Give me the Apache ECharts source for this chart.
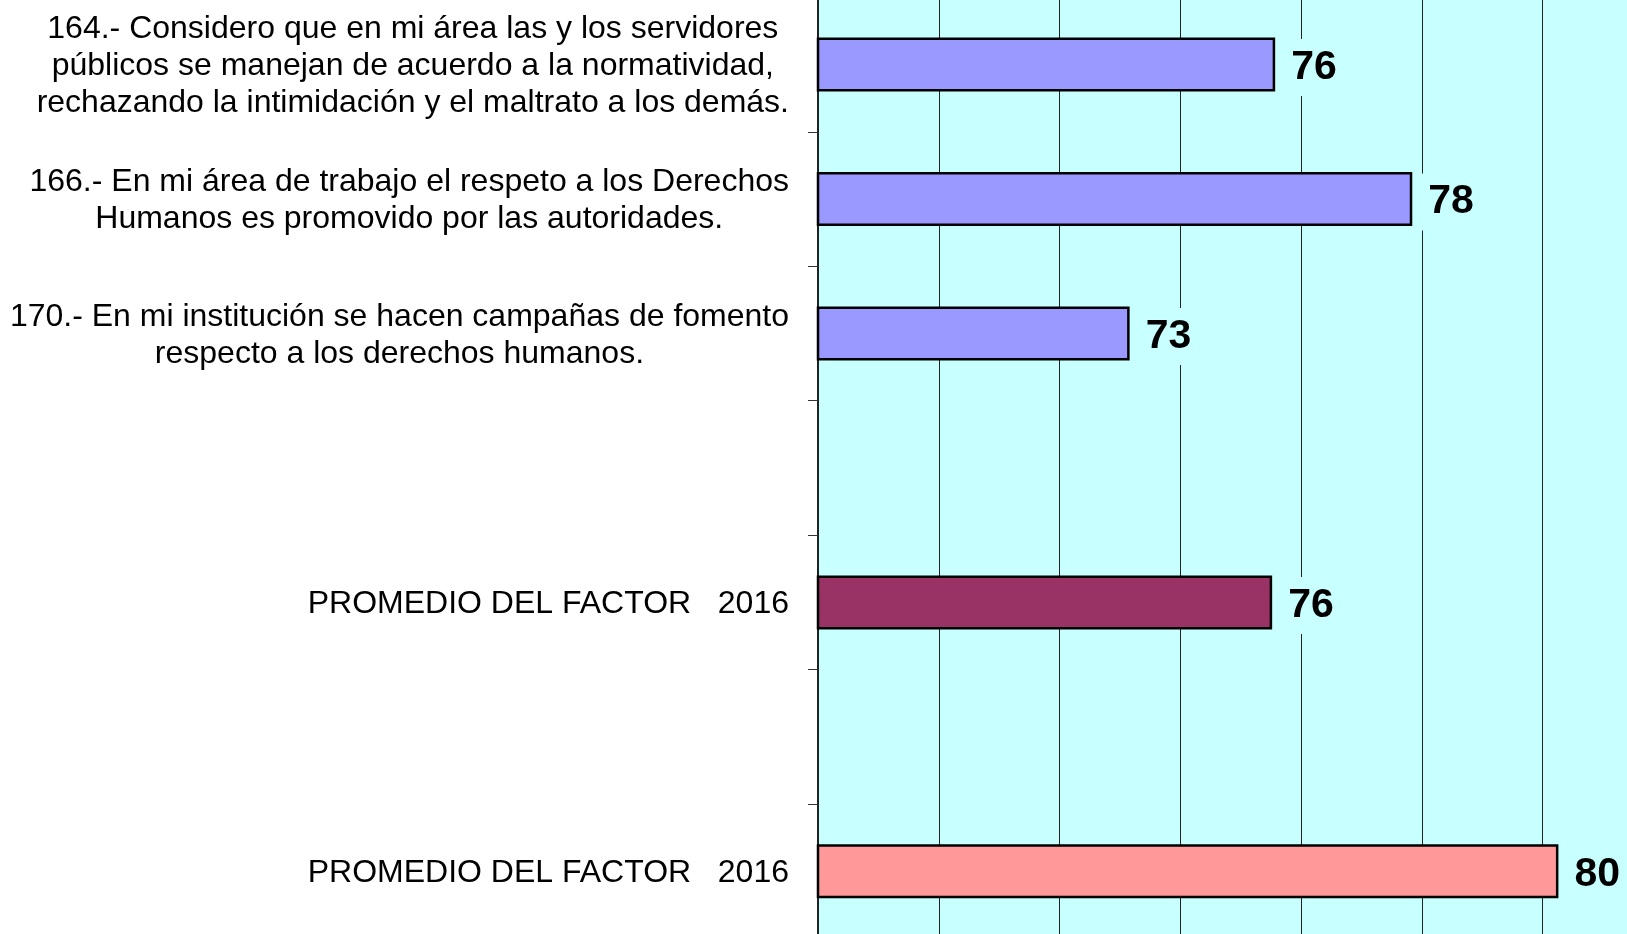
<!DOCTYPE html>
<html>
<head>
<meta charset="utf-8">
<title>Promedio del factor 2016</title>
<script src="https://cdn.jsdelivr.net/npm/echarts@6/dist/echarts.min.js"></script>
<style>
  html, body { margin: 0; padding: 0; background: #ffffff; }
  #chart { width: 1627px; height: 934px; }
</style>
</head>
<body>
<div id="chart"></div>
<script>
// Reactivos del factor (en orden de arriba hacia abajo); las filas vacías son separadores
const categories = [
  '164.- Considero que en mi área las y los servidores\npúblicos se manejan de acuerdo a la normatividad,\nrechazando la intimidación y el maltrato a los demás.',
  '166.- En mi área de trabajo el respeto a los Derechos\nHumanos es promovido por las autoridades.',
  '170.- En mi institución se hacen campañas de fomento\nrespecto a los derechos humanos.',
  '',
  'PROMEDIO DEL FACTOR   2016',
  '',
  'PROMEDIO DEL FACTOR   2016'
];

// Puntaje de cada fila (null = fila sin barra)
const scores = [75.57, 77.84, 73.16, null, 75.52, null, 80.26];

// Tipo de barra de cada fila: reactivo, promedio del factor, promedio global
const rowKinds = ['item', 'item', 'item', null, 'factor', null, 'global'];

// Escala del eje de valores
const axisMin = 68;
const axisMax = 82;
const axisStep = 2;

const kindColors = { item: '#9999FF', factor: '#993366', global: '#FF9999' };
const plotBg = '#C8FFFF';
const font = '"Liberation Sans", Arial, sans-serif';

const chart = echarts.init(document.getElementById('chart'), null, { renderer: 'canvas' });

chart.setOption({
  backgroundColor: '#ffffff',
  animation: false,
  grid: {
    left: 818,
    right: -36.5,
    top: -2.7,
    bottom: -4.6,
    show: true,
    backgroundColor: plotBg,
    borderWidth: 0,
    containLabel: false,
    outerBoundsMode: 'none'
  },
  xAxis: {
    type: 'value',
    min: axisMin,
    max: axisMax,
    interval: axisStep,
    axisLine: { show: false },
    axisTick: { show: false },
    axisLabel: { show: false },
    splitLine: { show: true, lineStyle: { color: '#222222', width: 1 } }
  },
  yAxis: {
    type: 'category',
    inverse: true,
    data: categories,
    axisLine: { show: true, lineStyle: { color: '#222222', width: 2 } },
    axisTick: { show: true, length: 10, inside: false, lineStyle: { color: '#333333', width: 1 } },
    splitLine: { show: false },
    axisLabel: {
      show: true,
      interval: 0,
      margin: 29,
      align: 'right',
      padding: [4, 0, 0, 0],
      formatter: function (value) {
        if (!value) return '';
        return value.split('\n').map(function (line) { return '{c|' + line + '}'; }).join('\n');
      },
      rich: {
        c: {
          align: 'center',
          fontFamily: font,
          fontSize: 32,
          lineHeight: 37,
          color: '#000000'
        }
      }
    }
  },
  series: [{
    type: 'bar',
    barWidth: 54,
    data: scores.map(function (v, i) {
      if (v === null) return '-';
      return {
        value: v,
        itemStyle: { color: kindColors[rowKinds[i]] }
      };
    }),
    itemStyle: { borderColor: '#000000', borderWidth: 2.5 },
    label: {
      show: true,
      position: 'right',
      distance: 8,
      offset: [0, 3],
      formatter: function (p) { return Math.round(p.value).toString(); },
      fontFamily: font,
      fontSize: 41,
      fontWeight: 'bold',
      lineHeight: 41,
      color: '#000000',
      backgroundColor: plotBg,
      padding: [8, 8, 8, 8]
    }
  }]
});
</script>
</body>
</html>
